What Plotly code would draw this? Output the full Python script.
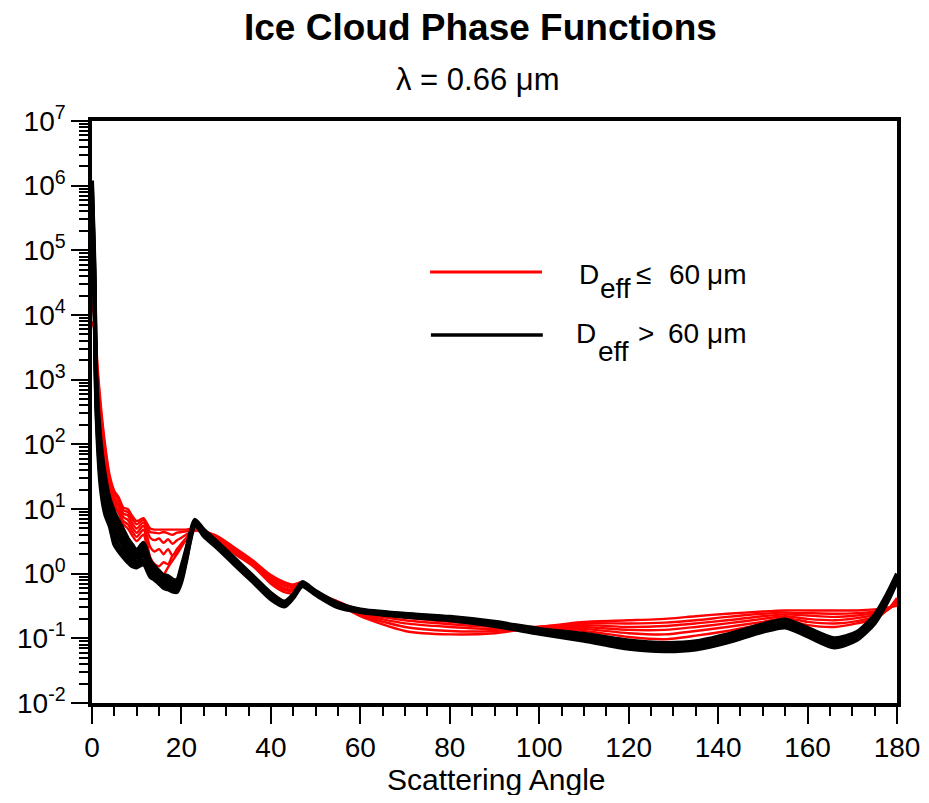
import plotly.graph_objects as go

# Scattering angle grid (degrees)
angle = [0, 0.5, 1, 2, 3, 4, 5, 6, 7, 8, 9, 10, 11.5, 13, 14, 15, 16, 17, 18, 19, 20,
         21, 22, 23, 25, 28, 32, 36, 40, 43, 45, 47, 50, 55, 60, 70, 80, 90, 100, 110,
         120, 128, 135, 142, 150, 155, 160, 166, 171, 175, 178, 180]

# Phase functions, D_eff <= 60 um (red)
red_1 = [2e5, 3e4, 3e3, 380, 90, 32, 19, 15, 10.5, 10, 7.8, 6.5, 7.2, 5.0, 4.8, 4.8, 4.8, 4.8, 4.8, 4.8, 4.8,
         4.8, 4.9, 5.2, 4.6, 3.8, 2.5, 1.6, 0.95, 0.74, 0.68, 0.74, 0.55, 0.34, 0.22, 0.13, 0.115, 0.12, 0.15, 0.18,
         0.19, 0.2, 0.22, 0.24, 0.26, 0.27, 0.27, 0.27, 0.27, 0.28, 0.3, 0.32]
red_2 = [1e5, 2.5e4, 2.5e3, 320, 80, 28, 17, 14, 9.5, 9, 7, 5.8, 6.8, 4.4, 4.3, 4.2, 4.4, 4.2, 4.0, 4.3, 4.4,
         4.5, 4.7, 5.0, 4.55, 3.7, 2.4, 1.52, 0.9, 0.7, 0.64, 0.73, 0.54, 0.35, 0.23, 0.15, 0.13, 0.13, 0.15, 0.17,
         0.17, 0.175, 0.19, 0.215, 0.24, 0.25, 0.245, 0.24, 0.245, 0.26, 0.29, 0.34]
red_3 = [5e4, 1.8e4, 2e3, 270, 70, 25, 15, 12.5, 8.5, 8, 6, 5, 6.2, 3.6, 3.3, 3.5, 3.0, 3.4, 2.9, 3.3, 3.6,
         4.0, 4.4, 4.9, 4.5, 3.6, 2.3, 1.45, 0.85, 0.65, 0.6, 0.72, 0.53, 0.36, 0.24, 0.17, 0.15, 0.14, 0.15, 0.16,
         0.15, 0.155, 0.17, 0.19, 0.22, 0.235, 0.225, 0.215, 0.225, 0.245, 0.28, 0.36]
red_4 = [3e4, 1.3e4, 1.6e3, 220, 60, 22, 13.5, 11, 7.5, 6.8, 5.2, 4.3, 5.5, 2.6, 2.2, 2.4, 2.0, 2.4, 1.9, 2.4, 2.9,
         3.5, 4.1, 4.8, 4.45, 3.5, 2.2, 1.4, 0.8, 0.6, 0.57, 0.71, 0.52, 0.36, 0.25, 0.19, 0.165, 0.15, 0.15, 0.15,
         0.135, 0.135, 0.15, 0.17, 0.2, 0.22, 0.2, 0.19, 0.205, 0.23, 0.28, 0.38]
red_5 = [1.5e4, 9e3, 1.3e3, 180, 52, 19, 12, 9.5, 6.5, 5.8, 4.5, 3.7, 4.8, 1.8, 1.4, 1.3, 1.5, 1.4, 1.9, 2.1, 2.9,
         3.5, 4.1, 4.7, 4.4, 3.4, 2.1, 1.35, 0.75, 0.56, 0.54, 0.7, 0.51, 0.37, 0.26, 0.21, 0.18, 0.16, 0.145, 0.14,
         0.12, 0.115, 0.13, 0.15, 0.18, 0.205, 0.18, 0.17, 0.185, 0.215, 0.28, 0.4]
red_6 = [8e3, 6e3, 1e3, 150, 45, 17, 11, 8.5, 5.8, 5.0, 3.9, 3.2, 4.0, 1.2, 0.9, 0.8, 0.95, 1.25, 1.6, 2.0, 2.6,
         3.3, 4.0, 4.6, 4.35, 3.3, 2.0, 1.3, 0.7, 0.52, 0.5, 0.68, 0.5, 0.37, 0.27, 0.225, 0.195, 0.17, 0.14, 0.13,
         0.105, 0.097, 0.11, 0.13, 0.165, 0.19, 0.16, 0.15, 0.17, 0.2, 0.28, 0.42]

# Phase functions, D_eff > 60 um (black)
black_1 = [1.2e6, 8e4, 1000, 100, 30, 14, 9, 6.5, 4.8, 3.5, 2.8, 2.3, 3.0, 1.6, 1.3, 1.1, 0.95, 0.92, 0.82, 0.8, 1.3,
           2.3, 4.3, 6.8, 4.8, 3.1, 1.7, 0.92, 0.5, 0.37, 0.48, 0.74, 0.54, 0.35, 0.28, 0.24, 0.215, 0.18, 0.14, 0.118,
           0.093, 0.085, 0.09, 0.115, 0.165, 0.195, 0.145, 0.1, 0.125, 0.23, 0.52, 1.0]
black_2 = [1e6, 6e4, 800, 70, 22, 11, 7, 5.2, 4.0, 3.0, 2.4, 2.0, 2.6, 1.4, 1.15, 1.0, 0.85, 0.85, 0.76, 0.74, 1.15,
           2.1, 4.1, 6.6, 4.6, 2.95, 1.6, 0.87, 0.48, 0.35, 0.46, 0.72, 0.52, 0.34, 0.275, 0.235, 0.21, 0.175, 0.135, 0.112,
           0.088, 0.08, 0.085, 0.108, 0.155, 0.183, 0.136, 0.094, 0.118, 0.215, 0.48, 0.95]
black_3 = [8e5, 5e4, 600, 50, 17, 9, 5.5, 4.2, 3.3, 2.5, 2.05, 1.75, 2.2, 1.25, 1.05, 0.9, 0.78, 0.75, 0.7, 0.68, 1.0,
           1.9, 3.9, 6.4, 4.4, 2.8, 1.5, 0.83, 0.46, 0.34, 0.45, 0.7, 0.5, 0.33, 0.27, 0.23, 0.205, 0.17, 0.13, 0.107,
           0.083, 0.076, 0.08, 0.102, 0.147, 0.173, 0.128, 0.088, 0.112, 0.2, 0.45, 0.9]
black_4 = [6e5, 4e4, 480, 38, 13, 7.5, 4.3, 3.4, 2.7, 2.1, 1.75, 1.5, 1.9, 1.1, 0.95, 0.82, 0.72, 0.7, 0.64, 0.62, 0.9,
           1.75, 3.7, 6.2, 4.2, 2.7, 1.45, 0.8, 0.44, 0.33, 0.44, 0.68, 0.49, 0.32, 0.265, 0.225, 0.2, 0.165, 0.126, 0.102,
           0.078, 0.071, 0.075, 0.096, 0.14, 0.163, 0.12, 0.082, 0.105, 0.19, 0.42, 0.85]
black_5 = [5e5, 3e4, 380, 28, 10, 6.3, 3.5, 2.7, 2.2, 1.75, 1.5, 1.35, 1.6, 1.0, 0.87, 0.76, 0.66, 0.62, 0.58, 0.57, 0.82,
           1.6, 3.5, 6.0, 4.0, 2.6, 1.4, 0.77, 0.42, 0.32, 0.43, 0.66, 0.48, 0.31, 0.26, 0.22, 0.195, 0.16, 0.122, 0.097,
           0.073, 0.067, 0.071, 0.091, 0.133, 0.155, 0.113, 0.077, 0.099, 0.18, 0.4, 0.8]
black_6 = [4e5, 2.5e4, 300, 20, 8, 5.3, 2.8, 2.2, 1.8, 1.5, 1.3, 1.25, 1.4, 0.9, 0.8, 0.7, 0.6, 0.57, 0.53, 0.52, 0.75,
           1.5, 3.3, 5.8, 3.8, 2.5, 1.35, 0.74, 0.4, 0.31, 0.42, 0.64, 0.47, 0.3, 0.255, 0.215, 0.19, 0.155, 0.118, 0.092,
           0.069, 0.063, 0.067, 0.086, 0.126, 0.147, 0.107, 0.072, 0.094, 0.17, 0.38, 0.75]

red_series = [red_1, red_2, red_3, red_4, red_5, red_6]
black_series = [black_1, black_2, black_3, black_4, black_5, black_6]

y_tick_vals = [1e-2, 1e-1, 1e0, 1e1, 1e2, 1e3, 1e4, 1e5, 1e6, 1e7]
y_tick_text = ["10<sup>-2</sup>", "10<sup>-1</sup>", "10<sup>0</sup>", "10<sup>1</sup>", "10<sup>2</sup>",
               "10<sup>3</sup>", "10<sup>4</sup>", "10<sup>5</sup>", "10<sup>6</sup>", "10<sup>7</sup>"]
y_minor_vals = [m * d for d in y_tick_vals[:-1] for m in range(2, 10)]

FONT = "Liberation Sans, Arial, sans-serif"

fig = go.Figure()
for s in red_series:
    fig.add_trace(go.Scatter(x=angle, y=s, mode="lines",
                             line=dict(color="#ff0000", width=2.4, shape="spline", smoothing=0.7),
                             showlegend=False, hoverinfo="skip"))
for s in black_series:
    fig.add_trace(go.Scatter(x=angle, y=s, mode="lines",
                             line=dict(color="#000000", width=4, shape="spline", smoothing=0.7),
                             showlegend=False, hoverinfo="skip"))

# page body has an 8px default margin; size the figure so the plot frame lands at x 92..897, y 121..703
fig.update_layout(
    width=913, height=787,
    margin=dict(l=84, r=24, t=113, b=92, autoexpand=False),
    paper_bgcolor="white", plot_bgcolor="white",
    font=dict(family=FONT, color="black", size=28),
    showlegend=False,
)
fig.update_xaxes(
    range=[0, 180], tickmode="linear", tick0=0, dtick=20,
    ticks="outside", ticklen=17, tickwidth=2, tickcolor="black",
    minor=dict(ticks="outside", ticklen=9, tickwidth=1.5, tickcolor="black", dtick=5, tick0=0, showgrid=False),
    showline=True, linewidth=3.5, linecolor="black", mirror=True,
    showgrid=False, zeroline=False, tickfont=dict(size=28, family=FONT),
)
fig.update_yaxes(
    type="log", range=[-2, 7], tickmode="array", tickvals=y_tick_vals, ticktext=y_tick_text,
    ticks="outside", ticklen=17, tickwidth=2, tickcolor="black",
    minor=dict(ticks="outside", ticklen=9, tickwidth=1.5, tickcolor="black", tickvals=y_minor_vals, showgrid=False),
    showline=True, linewidth=3.5, linecolor="black", mirror=True,
    showgrid=False, zeroline=False, tickfont=dict(size=28, family=FONT),
)


def note(text, x, y, size, anchor="center"):
    fig.add_annotation(text=text, xref="paper", yref="paper", x=x, y=y, xanchor=anchor, yanchor="middle",
                       showarrow=False, font=dict(size=size, family=FONT, color="black"), borderpad=0)


# Titles
note("<b>Ice Cloud Phase Functions</b>", 0.482, 1.16, 37)
note("λ = 0.66 μm", 0.4795, 1.072, 31)
note("Scattering Angle", 0.502, -0.132, 30)

# Legend (lines + text pieces)
fig.add_shape(type="line", xref="paper", yref="paper", x0=0.42, x1=0.559, y0=0.7405, y1=0.7405,
              line=dict(color="#ff0000", width=3))
fig.add_shape(type="line", xref="paper", yref="paper", x0=0.421, x1=0.560, y0=0.6323, y1=0.6323,
              line=dict(color="#000000", width=3.5))

note("D", 0.6037, 0.7363, 28, "left")
note("eff", 0.6298, 0.7122, 28, "left")
note("≤", 0.6745, 0.7363, 28, "left")
note("60", 0.7155, 0.7363, 28, "left")
note("μm", 0.7627, 0.7363, 28, "left")

note("D", 0.6000, 0.6349, 28, "left")
note("eff", 0.6273, 0.6040, 28, "left")
note(">", 0.6770, 0.6349, 28, "left")
note("60", 0.7143, 0.6349, 28, "left")
note("μm", 0.7627, 0.6349, 28, "left")

fig.write_html("out.html")
